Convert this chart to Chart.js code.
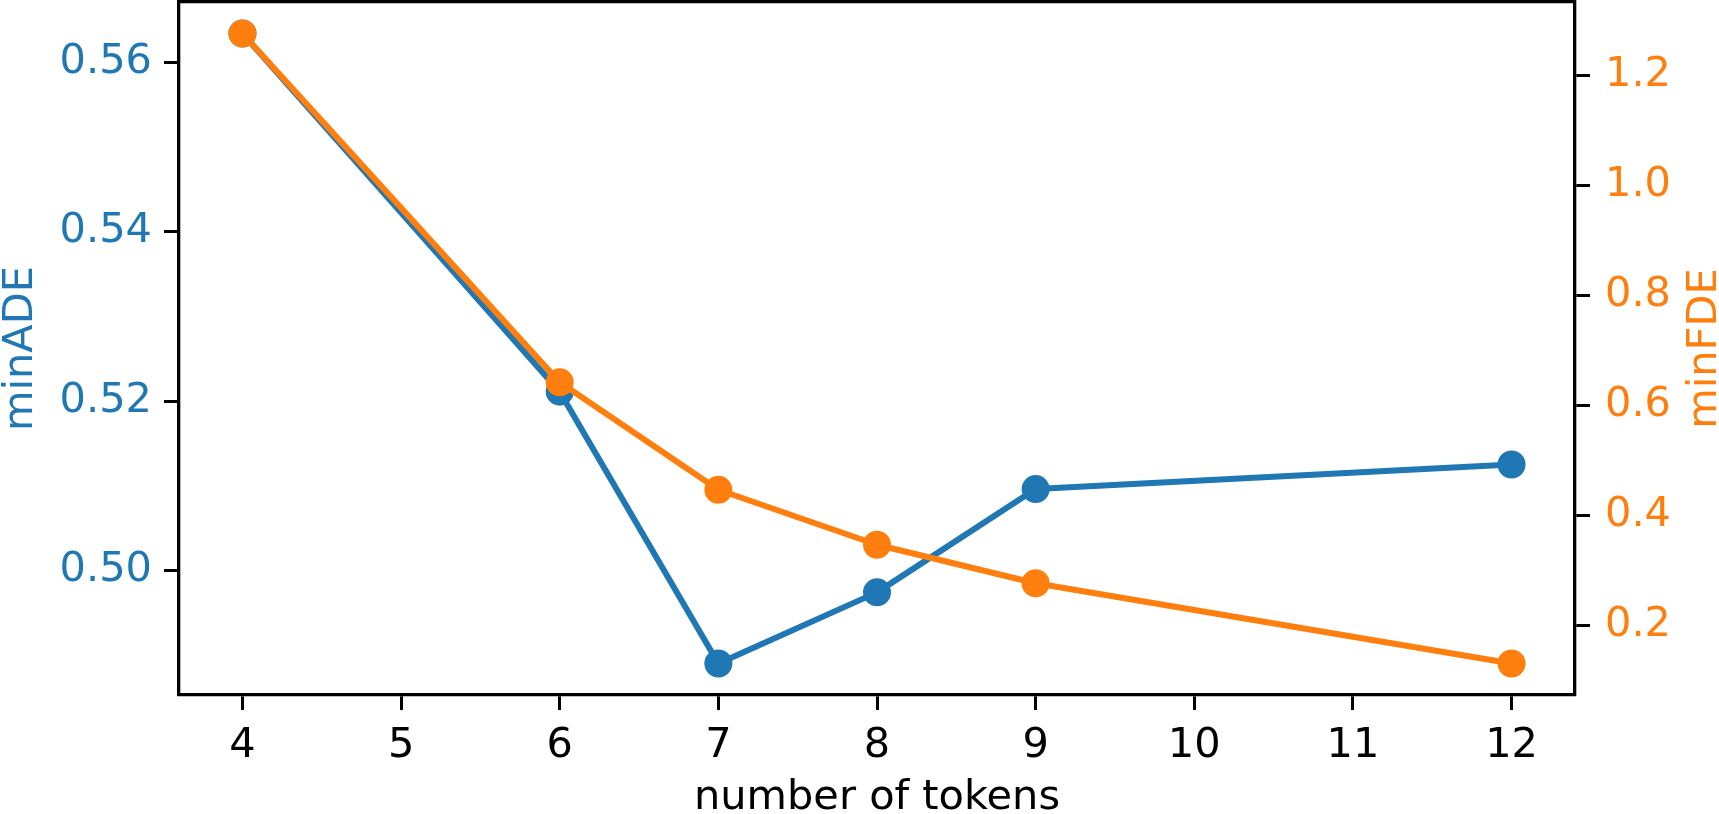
<!DOCTYPE html>
<html>
<head>
<meta charset="utf-8">
<script src="https://cdn.jsdelivr.net/npm/chart.js@4/dist/chart.umd.min.js"></script>
<style>
    html, body { margin: 0; padding: 0; background: #ffffff; }
    #wrap { width: 1719px; height: 814px; }
</style>
</head>
<body>
<div id="wrap"><canvas id="chart" width="1719" height="814"></canvas></div>
<script>
const tokens = [4, 6, 7, 8, 9, 12];
const minADE = [0.5634, 0.5211, 0.4890, 0.4974, 0.5096, 0.5125];
const minFDE = [1.276, 0.6415, 0.446, 0.346, 0.276, 0.130];

const xTicks = [4, 5, 6, 7, 8, 9, 10, 11, 12];
const adeTicks = [0.50, 0.52, 0.54, 0.56];
const fdeTicks = [0.2, 0.4, 0.6, 0.8, 1.0, 1.2];

const BLUE = '#1f77b4';
const ORANGE = '#ff7f0e';
const FONT = 'DejaVu Sans';
const FS = 41.5;

// matplotlib style 5% margins
function padRange(values) {
    const lo = Math.min(...values);
    const hi = Math.max(...values);
    const m = (hi - lo) * 0.05;
    return [lo - m, hi + m];
}

const [xMin, xMax] = padRange(tokens);
const [adeMin, adeMax] = padRange(minADE);
const [fdeMin, fdeMax] = padRange(minFDE);

const toPoints = (ys) => tokens.map((t, i) => ({x: t, y: ys[i]}));

function fixedTicks(list) {
    return (scale) => {
        scale.ticks = list.map(v => ({value: v}));
    };
}

// fixed box size, no extra room asked for the end labels
function fixWidth(w) {
    return (scale) => {
        scale.width = w;
        scale.paddingTop = 0;
        scale.paddingBottom = 0;
    };
}

const tickGrid = {
    display: true,
    drawOnChartArea: false,
    drawTicks: true,
    tickLength: 15,
    tickWidth: 3,
    color: '#000000',
    tickColor: '#000000'
};
const spine = {display: true, color: '#000000', width: 3.3};

// right axis label reads bottom-to-top like matplotlib
const rightTitle = {
    id: 'rightTitle',
    afterDraw(chart) {
        const s = chart.scales.y2;
        const area = chart.chartArea;
        const ctx = chart.ctx;
        ctx.save();
        ctx.translate(s.right - 14, (area.top + area.bottom) / 2);
        ctx.rotate(-Math.PI / 2);
        ctx.font = `${FS}px "${FONT}"`;
        ctx.fillStyle = ORANGE;
        ctx.textAlign = 'center';
        ctx.textBaseline = 'middle';
        ctx.fillText('minFDE', 0, 0);
        ctx.restore();
    }
};

new Chart(document.getElementById('chart'), {
    type: 'line',
    data: {
        datasets: [
            {
                label: 'minADE',
                data: toPoints(minADE),
                yAxisID: 'y',
                borderColor: BLUE,
                backgroundColor: BLUE,
                pointBackgroundColor: BLUE,
                pointBorderColor: BLUE,
                borderWidth: 6,
                borderJoinStyle: 'round',
                pointRadius: 13,
                pointBorderWidth: 2,
                tension: 0,
                clip: false,
                order: 2
            },
            {
                label: 'minFDE',
                data: toPoints(minFDE),
                yAxisID: 'y2',
                borderColor: ORANGE,
                backgroundColor: ORANGE,
                pointBackgroundColor: ORANGE,
                pointBorderColor: ORANGE,
                borderWidth: 6,
                borderJoinStyle: 'round',
                pointRadius: 13,
                pointBorderWidth: 2,
                tension: 0,
                clip: false,
                order: 1
            }
        ]
    },
    options: {
        responsive: false,
        maintainAspectRatio: false,
        animation: false,
        layout: {padding: 0, autoPadding: false},
        plugins: {
            legend: {display: false},
            tooltip: {enabled: false}
        },
        scales: {
            x: {
                type: 'linear',
                position: 'bottom',
                min: xMin,
                max: xMax,
                afterBuildTicks: fixedTicks(xTicks),
                afterFit(scale) {
                    scale.height = 119;
                    scale.paddingLeft = 0;
                    scale.paddingRight = 0;
                },
                grid: tickGrid,
                border: spine,
                ticks: {
                    color: '#000000',
                    padding: 15,
                    maxRotation: 0,
                    font: {family: FONT, size: FS, lineHeight: 1},
                    callback: (v) => String(v)
                },
                title: {
                    display: true,
                    text: 'number of tokens',
                    color: '#000000',
                    padding: 0,
                    font: {family: FONT, size: FS, lineHeight: 0.78}
                }
            },
            xTop: {
                type: 'linear',
                position: 'top',
                min: xMin,
                max: xMax,
                afterFit(scale) { scale.height = 2; },
                grid: {display: false},
                border: spine,
                ticks: {display: false}
            },
            y: {
                type: 'linear',
                position: 'left',
                min: adeMin,
                max: adeMax,
                afterBuildTicks: fixedTicks(adeTicks),
                afterFit: fixWidth(179),
                grid: tickGrid,
                border: spine,
                ticks: {
                    color: BLUE,
                    padding: 12,
                    font: {family: FONT, size: FS, lineHeight: 1},
                    callback: (v) => v.toFixed(2)
                },
                title: {
                    display: true,
                    text: 'minADE',
                    color: BLUE,
                    padding: {top: 2, bottom: 0},
                    font: {family: FONT, size: FS, lineHeight: 0.95}
                }
            },
            y2: {
                type: 'linear',
                position: 'right',
                min: fdeMin,
                max: fdeMax,
                afterBuildTicks: fixedTicks(fdeTicks),
                afterFit: fixWidth(144),
                grid: tickGrid,
                border: spine,
                ticks: {
                    color: ORANGE,
                    padding: 15,
                    font: {family: FONT, size: FS, lineHeight: 1},
                    callback: (v) => v.toFixed(1)
                }
            }
        }
    },
    plugins: [rightTitle]
});
</script>
</body>
</html>
